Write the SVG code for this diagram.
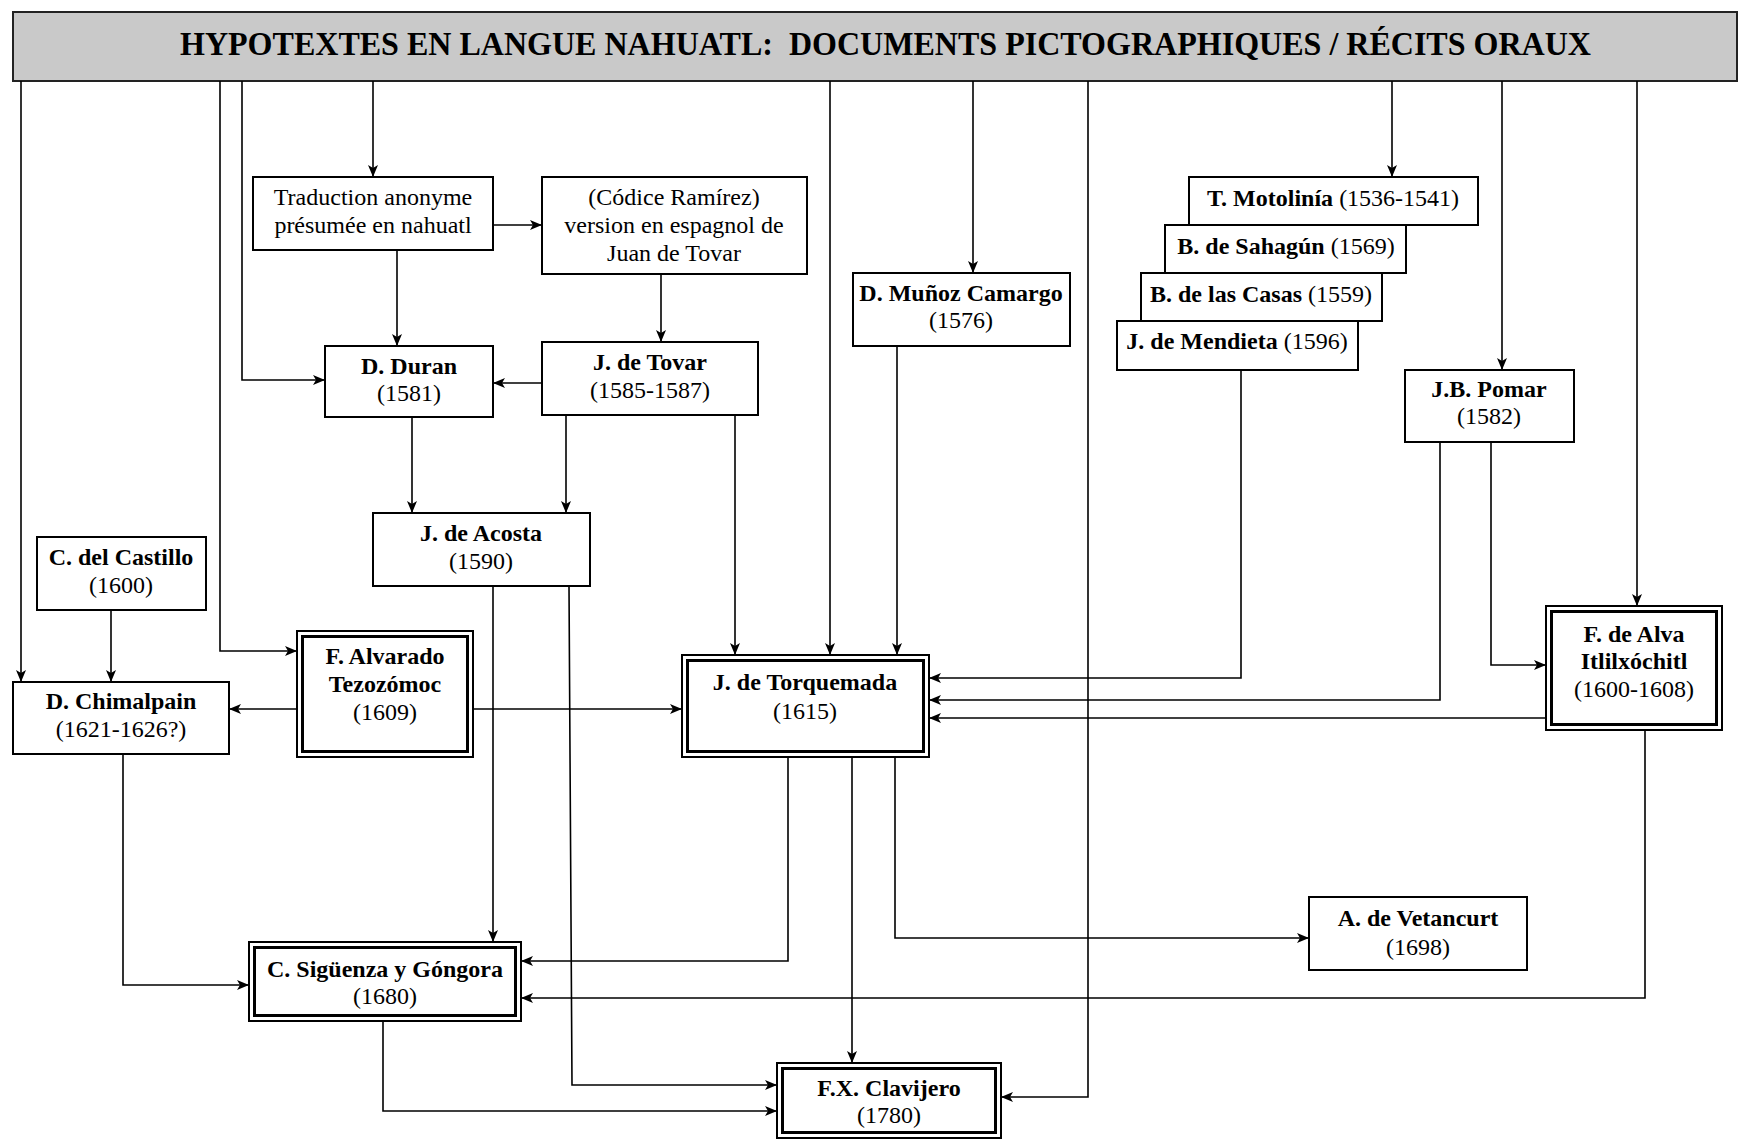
<svg xmlns="http://www.w3.org/2000/svg" width="1740" height="1140" viewBox="0 0 1740 1140">
<style>
.box{fill:#fff;stroke:#000;stroke-width:2}
.ib{fill:none;stroke:#000;stroke-width:3}
.t{font-family:"Liberation Serif","Times New Roman",serif;font-size:24px;text-anchor:middle;fill:#000}
.b{font-weight:bold}
.c{fill:none;stroke:#000;stroke-width:1.6;marker-end:url(#a)}
.hd{fill:#c9c9c9;stroke:#222;stroke-width:2}
.title{font-family:"Liberation Serif","Times New Roman",serif;font-size:34px;font-weight:bold;fill:#000}
</style>
<defs>
<marker id="a" markerUnits="userSpaceOnUse" markerWidth="13" markerHeight="10" refX="12" refY="5" orient="auto">
<path d="M0,0 L12,5 L0,10 L3,5 z" fill="#000"/>
</marker>
</defs>
<rect width="1740" height="1140" fill="#fff"/>
<g id="header">
<rect class="hd" x="13" y="12" width="1724" height="69"/>
<text class="title" x="180" y="55" textLength="1411" lengthAdjust="spacingAndGlyphs">HYPOTEXTES EN LANGUE NAHUATL:&#160; DOCUMENTS PICTOGRAPHIQUES / RÉCITS ORAUX</text>
</g>
<g id="connectors">
<path class="c" d="M21,81 V682"/>
<path class="c" d="M220,81 V651 H297"/>
<path class="c" d="M242,81 V380 H325"/>
<path class="c" d="M373,81 V177"/>
<path class="c" d="M493,225 H542"/>
<path class="c" d="M397,250 V346"/>
<path class="c" d="M661,274 V342"/>
<path class="c" d="M542,383 H493"/>
<path class="c" d="M412,417 V513"/>
<path class="c" d="M566,415 V513"/>
<path class="c" d="M735,415 V655"/>
<path class="c" d="M830,81 V655"/>
<path class="c" d="M973,81 V273"/>
<path class="c" d="M897,346 V655"/>
<path class="c" d="M1088,81 V1097 H1001"/>
<path class="c" d="M1392,81 V177"/>
<path class="c" d="M1502,81 V370"/>
<path class="c" d="M1637,81 V606"/>
<path class="c" d="M1241,370 V678 H929"/>
<path class="c" d="M1440,442 V700 H929"/>
<path class="c" d="M1491,442 V665 H1546"/>
<path class="c" d="M1546,718 H929"/>
<path class="c" d="M111,610 V682"/>
<path class="c" d="M297,709 H229"/>
<path class="c" d="M473,709 H682"/>
<path class="c" d="M493,586 V942"/>
<path class="c" d="M569,586 L572,1085 H777"/>
<path class="c" d="M123,754 V985 H249"/>
<path class="c" d="M788,757 V961 H521"/>
<path class="c" d="M852,757 V1063"/>
<path class="c" d="M895,757 V938 H1309"/>
<path class="c" d="M1645,730 V998 H521"/>
<path class="c" d="M383,1021 V1111 H777"/>
</g>
<g id="traduction">
<rect class="box" x="253" y="177" width="240" height="73"/>
<text class="t" x="373" y="205">Traduction anonyme</text>
<text class="t" x="373" y="233">présumée en nahuatl</text>
</g>
<g id="codice">
<rect class="box" x="542" y="177" width="265" height="97"/>
<text class="t" x="674" y="205">(Códice Ramírez)</text>
<text class="t" x="674" y="233">version en espagnol de</text>
<text class="t" x="674" y="261">Juan de Tovar</text>
</g>
<g id="duran">
<rect class="box" x="325" y="346" width="168" height="71"/>
<text class="t b" x="409" y="374">D. Duran</text>
<text class="t" x="409" y="401">(1581)</text>
</g>
<g id="tovar">
<rect class="box" x="542" y="342" width="216" height="73"/>
<text class="t b" x="650" y="370">J. de Tovar</text>
<text class="t" x="650" y="398">(1585-1587)</text>
</g>
<g id="acosta">
<rect class="box" x="373" y="513" width="217" height="73"/>
<text class="t b" x="481" y="541">J. de Acosta</text>
<text class="t" x="481" y="569">(1590)</text>
</g>
<g id="castillo">
<rect class="box" x="37" y="537" width="169" height="73"/>
<text class="t b" x="121" y="565">C. del Castillo</text>
<text class="t" x="121" y="593">(1600)</text>
</g>
<g id="chimalpain">
<rect class="box" x="13" y="682" width="216" height="72"/>
<text class="t b" x="121" y="709">D. Chimalpain</text>
<text class="t" x="121" y="737">(1621-1626?)</text>
</g>
<g id="alvarado">
<rect class="box" x="297" y="631" width="176" height="126"/>
<rect class="ib" x="302.5" y="636.5" width="165" height="115"/>
<text class="t b" x="385" y="664">F. Alvarado</text>
<text class="t b" x="385" y="692">Tezozómoc</text>
<text class="t" x="385" y="720">(1609)</text>
</g>
<g id="torquemada">
<rect class="box" x="682" y="655" width="247" height="102"/>
<rect class="ib" x="687.5" y="660.5" width="236" height="91"/>
<text class="t b" x="805" y="690">J. de Torquemada</text>
<text class="t" x="805" y="719">(1615)</text>
</g>
<g id="munoz">
<rect class="box" x="853" y="273" width="217" height="73"/>
<text class="t b" x="961" y="301">D. Muñoz Camargo</text>
<text class="t" x="961" y="328">(1576)</text>
</g>
<g id="motolinia">
<rect class="box" x="1189" y="177" width="289" height="48"/>
<text class="t" x="1333" y="206"><tspan class="b">T. Motolinía</tspan> (1536-1541)</text>
</g>
<g id="sahagun">
<rect class="box" x="1165" y="225" width="241" height="48"/>
<text class="t" x="1286" y="254"><tspan class="b">B. de Sahagún</tspan> (1569)</text>
</g>
<g id="casas">
<rect class="box" x="1141" y="273" width="241" height="48"/>
<text class="t" x="1261" y="302"><tspan class="b">B. de las Casas</tspan> (1559)</text>
</g>
<g id="mendieta">
<rect class="box" x="1117" y="321" width="241" height="49"/>
<text class="t" x="1237" y="349"><tspan class="b">J. de Mendieta</tspan> (1596)</text>
</g>
<g id="pomar">
<rect class="box" x="1405" y="370" width="169" height="72"/>
<text class="t b" x="1489" y="397">J.B. Pomar</text>
<text class="t" x="1489" y="424">(1582)</text>
</g>
<g id="alva">
<rect class="box" x="1546" y="606" width="176" height="124"/>
<rect class="ib" x="1551.5" y="611.5" width="165" height="113"/>
<text class="t b" x="1634" y="642">F. de Alva</text>
<text class="t b" x="1634" y="669">Itlilxóchitl</text>
<text class="t" x="1634" y="697">(1600-1608)</text>
</g>
<g id="vetancurt">
<rect class="box" x="1309" y="897" width="218" height="73"/>
<text class="t b" x="1418" y="926">A. de Vetancurt</text>
<text class="t" x="1418" y="955">(1698)</text>
</g>
<g id="siguenza">
<rect class="box" x="249" y="942" width="272" height="79"/>
<rect class="ib" x="254.5" y="947.5" width="261" height="68"/>
<text class="t b" x="385" y="977">C. Sigüenza y Góngora</text>
<text class="t" x="385" y="1004">(1680)</text>
</g>
<g id="clavijero">
<rect class="box" x="777" y="1063" width="224" height="75"/>
<rect class="ib" x="782.5" y="1068.5" width="213" height="64"/>
<text class="t b" x="889" y="1096">F.X. Clavijero</text>
<text class="t" x="889" y="1123">(1780)</text>
</g>
</svg>
